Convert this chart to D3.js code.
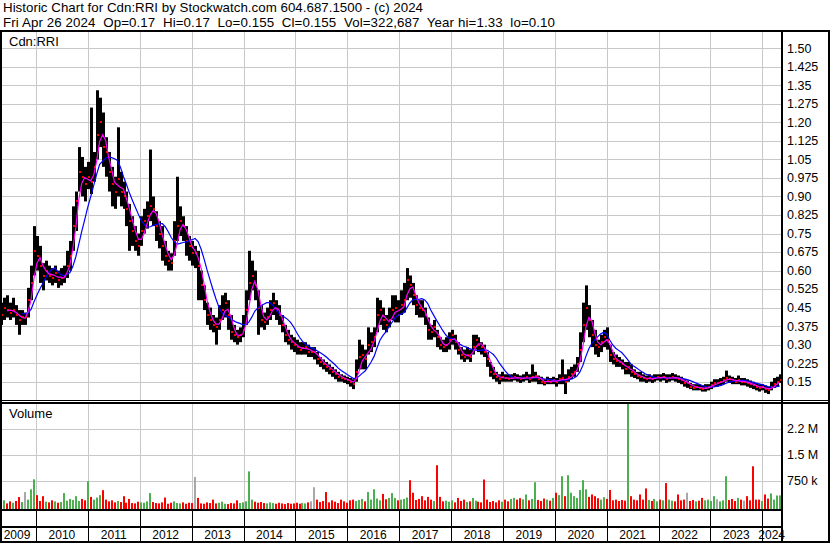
<!DOCTYPE html>
<html><head><meta charset="utf-8">
<script src="https://cdn.jsdelivr.net/npm/d3@7"></script>
<style>
html,body{margin:0;padding:0;background:#fff;overflow:hidden}
text{font-family:Arial,"Liberation Sans",sans-serif;fill:#000}
</style>
</head><body>
<svg id="chart" width="830" height="543"></svg>
<script>
// ---------------- DATA ----------------
const title1 = "Historic Chart for Cdn:RRI by Stockwatch.com 604.687.1500 - (c) 2024";
const title2 = "Fri Apr 26 2024  Op=0.17  Hi=0.17  Lo=0.155  Cl=0.155  Vol=322,687  Year hi=1.33  lo=0.10";
const symbolLabel = "Cdn:RRI";
const volumeLabel = "Volume";
const lastBarDate = "2024-04-26";
const barDays = 21; // each bar = 3 weeks

const closes = [
0.42,0.45,0.44,0.43,0.44,0.42,0.40,0.41,0.41,0.48,
0.55,0.68,0.66,0.62,0.58,0.60,0.58,0.57,0.59,0.56,
0.57,0.58,0.62,0.66,0.78,0.88,1.00,0.98,0.95,0.98,
0.96,1.02,1.15,1.20,1.10,1.08,1.00,0.95,0.92,0.97,
0.92,0.90,0.85,0.80,0.76,0.72,0.70,0.76,0.80,0.82,
0.86,0.85,0.78,0.75,0.70,0.66,0.64,0.63,0.72,0.78,
0.80,0.78,0.72,0.70,0.67,0.67,0.62,0.54,0.48,0.42,
0.40,0.38,0.37,0.40,0.44,0.47,0.42,0.35,0.34,0.33,
0.34,0.36,0.44,0.55,0.58,0.54,0.45,0.40,0.39,0.41,
0.44,0.47,0.44,0.42,0.38,0.34,0.32,0.31,0.30,0.29,
0.28,0.285,
0.29,0.27,0.27,0.27,0.24,0.23,0.22,0.21,0.20,0.19,
0.18,0.17,0.165,0.16,0.155,0.15,0.14,0.19,0.25,0.26,
0.24,0.30,0.31,0.33,0.42,0.44,0.40,0.38,0.40,0.44,
0.45,0.42,0.46,0.48,0.56,0.54,0.50,0.46,0.45,0.44,
0.42,0.36,0.35,0.37,0.33,0.30,0.29,0.30,0.32,0.34,
0.31,0.28,0.26,0.25,0.26,0.25,0.29,0.32,0.30,0.29,
0.27,0.24,0.19,0.18,0.17,0.16,0.17,0.165,0.16,0.165,
0.17,0.165,0.16,0.165,0.17,0.16,0.17,0.175,0.16,0.15,
0.145,0.155,0.15,0.155,0.15,0.16,0.165,0.15,0.17,0.18,
0.19,0.22,0.28,0.38,0.45,0.40,0.34,0.30,0.29,0.31,
0.33,0.32,0.26,0.24,0.235,0.23,0.22,0.20,0.21,0.19,
0.18,0.175,0.17,0.165,0.16,0.165,0.16,0.165,0.17,0.165,
0.17,0.16,0.165,0.17,0.165,0.16,0.155,0.145,0.145,0.13,
0.125,0.13,0.125,0.12,0.125,0.13,0.135,0.145,0.145,0.15,
0.155,0.165,0.16,0.155,0.15,0.155,0.15,0.15,0.145,0.14,
0.135,0.13,0.125,0.13,0.12,0.115,0.13,0.14,0.15,
0.155];

const highs = [
0.47,0.49,0.50,0.47,0.49,0.46,0.44,0.44,0.43,0.53,
0.62,0.78,0.74,0.70,0.63,0.64,0.62,0.61,0.62,0.60,
0.61,0.62,0.68,0.72,0.86,0.92,1.10,1.06,1.02,1.04,
1.26,1.08,1.33,1.30,1.24,1.14,1.08,1.02,0.98,1.18,
1.00,0.96,0.92,0.87,0.82,0.78,0.75,0.82,0.85,0.88,
1.09,0.90,0.84,0.80,0.78,0.72,0.68,0.67,0.80,0.98,
0.86,0.82,0.78,0.74,0.72,0.70,0.68,0.60,0.54,0.47,
0.45,0.42,0.41,0.46,0.50,0.51,0.48,0.42,0.38,0.36,
0.37,0.42,0.52,0.68,0.64,0.60,0.52,0.46,0.43,0.45,
0.48,0.51,0.48,0.46,0.42,0.38,0.36,0.34,0.33,0.32,
0.31,0.31,
0.31,0.30,0.29,0.29,0.27,0.25,0.24,0.23,0.22,0.21,
0.20,0.19,0.18,0.175,0.17,0.165,0.16,0.24,0.32,0.30,
0.28,0.37,0.35,0.37,0.49,0.48,0.45,0.42,0.45,0.50,
0.50,0.48,0.52,0.55,0.61,0.58,0.55,0.50,0.48,0.48,
0.45,0.41,0.38,0.40,0.36,0.33,0.32,0.33,0.35,0.36,
0.34,0.31,0.29,0.28,0.29,0.28,0.34,0.34,0.33,0.31,
0.30,0.27,0.23,0.21,0.19,0.18,0.19,0.18,0.18,0.18,
0.185,0.18,0.175,0.18,0.19,0.18,0.22,0.19,0.175,0.17,
0.16,0.17,0.165,0.17,0.165,0.18,0.24,0.18,0.20,0.21,
0.22,0.25,0.35,0.47,0.54,0.46,0.40,0.36,0.32,0.34,
0.36,0.37,0.30,0.27,0.26,0.25,0.24,0.23,0.23,0.22,
0.20,0.19,0.19,0.18,0.175,0.18,0.175,0.18,0.18,0.18,
0.185,0.18,0.18,0.185,0.18,0.175,0.17,0.16,0.155,0.145,
0.14,0.14,0.14,0.135,0.14,0.14,0.15,0.16,0.16,0.165,
0.17,0.195,0.175,0.17,0.165,0.175,0.165,0.165,0.16,0.155,
0.15,0.145,0.14,0.14,0.135,0.13,0.15,0.165,0.17,
0.18];

const lows = [
0.38,0.40,0.41,0.40,0.41,0.38,0.34,0.38,0.38,0.41,
0.48,0.58,0.60,0.55,0.52,0.56,0.55,0.54,0.55,0.53,
0.54,0.55,0.57,0.60,0.68,0.76,0.92,0.90,0.88,0.93,
0.91,0.96,1.05,1.10,1.02,0.98,0.92,0.86,0.85,0.90,
0.86,0.85,0.78,0.68,0.70,0.68,0.66,0.70,0.75,0.77,
0.80,0.78,0.72,0.69,0.64,0.62,0.60,0.60,0.66,0.72,
0.74,0.72,0.66,0.64,0.62,0.61,0.48,0.48,0.44,0.38,
0.36,0.35,0.30,0.36,0.40,0.41,0.36,0.32,0.31,0.30,
0.31,0.33,0.38,0.48,0.52,0.48,0.34,0.37,0.36,0.38,
0.40,0.42,0.40,0.38,0.35,0.31,0.30,0.28,0.27,0.26,
0.26,0.26,
0.26,0.25,0.25,0.24,0.22,0.21,0.20,0.19,0.18,0.17,
0.16,0.15,0.15,0.145,0.14,0.13,0.12,0.15,0.20,0.20,
0.20,0.26,0.27,0.29,0.35,0.38,0.36,0.35,0.37,0.40,
0.39,0.39,0.42,0.43,0.48,0.49,0.46,0.42,0.41,0.41,
0.38,0.32,0.32,0.33,0.29,0.28,0.27,0.27,0.28,0.30,
0.28,0.26,0.24,0.23,0.24,0.23,0.26,0.28,0.27,0.26,
0.25,0.21,0.17,0.16,0.15,0.14,0.15,0.15,0.15,0.15,
0.155,0.15,0.145,0.15,0.155,0.145,0.15,0.15,0.14,0.14,
0.135,0.14,0.14,0.14,0.13,0.14,0.14,0.10,0.15,0.16,
0.17,0.19,0.23,0.31,0.36,0.33,0.29,0.26,0.25,0.27,
0.29,0.28,0.23,0.22,0.21,0.21,0.20,0.18,0.18,0.17,
0.165,0.16,0.15,0.15,0.145,0.15,0.145,0.15,0.155,0.15,
0.155,0.145,0.15,0.155,0.15,0.145,0.14,0.13,0.125,0.12,
0.115,0.115,0.115,0.11,0.11,0.115,0.12,0.13,0.13,0.135,
0.14,0.15,0.145,0.14,0.14,0.14,0.135,0.135,0.13,0.125,
0.12,0.115,0.11,0.115,0.105,0.10,0.115,0.125,0.13,
0.145];

// volume in thousands of shares
const volumes = [
120,180,90,150,110,160,275,130,420,200,
500,790,330,160,300,140,120,180,150,110,
130,390,170,220,190,300,160,220,180,735,
280,200,260,330,475,200,150,180,120,160,
130,300,110,220,100,90,140,120,110,150,
390,130,100,90,120,260,80,110,150,100,
90,120,80,110,100,860,250,90,80,120,
100,200,90,110,140,80,70,100,90,180,
100,120,150,1020,200,140,110,130,100,90,
120,100,80,110,90,70,100,80,90,110,
80,100,90,120,150,560,200,130,160,420,
120,180,140,100,200,150,110,180,200,160,
190,220,150,420,200,500,230,180,365,210,
250,390,250,180,200,220,260,765,400,190,
220,300,180,280,200,160,1200,280,150,170,
140,180,120,250,160,200,130,150,250,170,
140,120,785,200,130,160,120,180,140,200,
150,220,250,200,240,210,350,180,220,705,
190,160,230,200,170,250,400,330,880,300,
910,400,300,250,480,765,500,280,350,300,
240,200,270,220,480,180,200,160,190,170,
3100,300,200,180,350,200,525,190,160,220,
150,200,180,680,200,170,150,350,180,200,
400,160,190,150,170,250,180,200,160,300,
210,150,180,880,190,220,160,250,200,170,
300,180,1170,200,200,160,350,230,380,200,
320,323];

const priceTickLabels = ["1.50","1.425","1.35","1.275","1.20","1.125","1.05","0.975","0.90","0.825","0.75","0.675","0.60","0.525","0.45","0.375","0.30","0.225","0.15"];
const volTickValues = [750000, 1500000, 2250000];
const volTickLabels = ["750 k", "1.5 M", "2.2 M"];
const yearLabels = [2009,2010,2011,2012,2013,2014,2015,2016,2017,2018,2019,2020,2021,2022,2023,2024];
const shortMAPeriod = 3;  // bars
const longMAPeriod = 8;   // bars

// ---------------- LAYOUT ----------------
const W = 830, H = 543;
const L = 2, R = 781;
const priceTop = 32, priceBottom = 400;
const volTop = 403, volBottom = 509;

const svg = d3.select("#chart");
svg.append("rect").attr("width", W).attr("height", H).attr("fill", "#fff");

const N = closes.length;
const endDate = d3.timeParse("%Y-%m-%d")(lastBarDate);
const dates = closes.map((_, i) => d3.timeDay.offset(endDate, -(N - 1 - i) * barDays));

const x = d3.scaleTime()
  .domain([new Date(2010, 0, 1), new Date(2024, 0, 1)])
  .range([36, 762.3]);
const yP = d3.scaleLinear().domain([0.15, 1.50]).range([381.7, 48.3]);
const yV = d3.scaleLinear().domain([0, 3000000]).range([506.5, 403.3]);

const gridColor = "#c8c8c8";
const yearBounds = yearLabels.slice(1).map(y => new Date(y, 0, 1));

const defs = svg.append("defs");
defs.append("clipPath").attr("id", "cp").append("rect")
  .attr("x", L).attr("y", priceTop).attr("width", R - L).attr("height", priceBottom - priceTop);
defs.append("clipPath").attr("id", "cv").append("rect")
  .attr("x", L).attr("y", volTop).attr("width", R - L).attr("height", volBottom - volTop);

// grid
const grid = svg.append("g").attr("stroke", gridColor).attr("stroke-width", 1);
priceTickLabels.forEach(t => {
  const yy = Math.round(yP(+t)) + 0.5;
  grid.append("line").attr("x1", L).attr("x2", R).attr("y1", yy).attr("y2", yy);
});
volTickValues.forEach(v => {
  const yy = Math.round(yV(v)) + 0.5;
  grid.append("line").attr("x1", L).attr("x2", R).attr("y1", yy).attr("y2", yy);
});
yearBounds.forEach(d => {
  const xx = Math.round(x(d)) + 0.5;
  grid.append("line").attr("x1", xx).attr("x2", xx).attr("y1", priceTop).attr("y2", priceBottom);
  grid.append("line").attr("x1", xx).attr("x2", xx).attr("y1", volTop).attr("y2", volBottom);
});

// price bars (high-low) with red close marks
const pg = svg.append("g").attr("clip-path", "url(#cp)");
pg.selectAll("rect.bar").data(closes).join("rect")
  .attr("class", "bar")
  .attr("x", (d, i) => Math.round(x(dates[i])))
  .attr("width", 3)
  .attr("y", (d, i) => yP(highs[i]))
  .attr("height", (d, i) => Math.max(1, yP(lows[i]) - yP(highs[i])))
  .attr("fill", "#000");
pg.selectAll("rect.cl").data(closes).join("rect")
  .attr("class", "cl")
  .attr("x", (d, i) => Math.round(x(dates[i])) + 1)
  .attr("width", 2)
  .attr("y", d => Math.round(yP(d)) - 1)
  .attr("height", 2)
  .attr("fill", "#ff0000");

// moving averages
function sma(period) {
  return closes.map((c, i) => i < period - 1 ? null : d3.mean(closes.slice(i - period + 1, i + 1)));
}
const line = d3.line()
  .defined(d => d.v !== null)
  .x(d => x(d.d) + 1)
  .y(d => yP(d.v));
const maShort = sma(shortMAPeriod).map((v, i) => ({d: dates[i], v}));
const maLong = sma(longMAPeriod).map((v, i) => ({d: dates[i], v}));
pg.append("path").attr("d", line(maLong)).attr("fill", "none").attr("stroke", "#0000ff").attr("stroke-width", 1.2);
pg.append("path").attr("d", line(maShort)).attr("fill", "none").attr("stroke", "#ff00ff").attr("stroke-width", 1.2);

// volume bars
const vg = svg.append("g").attr("clip-path", "url(#cv)");
vg.selectAll("rect").data(volumes).join("rect")
  .attr("x", (d, i) => Math.round(x(dates[i])))
  .attr("width", 2)
  .attr("y", d => yV(d * 1000))
  .attr("height", d => volBottom - yV(d * 1000))
  .attr("fill", (d, i) => {
    if (i === 0) return "#4caf50";
    if (closes[i] > closes[i - 1]) return "#4caf50";
    if (closes[i] < closes[i - 1]) return "#ff0000";
    return "#a8a8a8";
  });

// frame lines
const frame = svg.append("g").attr("fill", "#000");
frame.append("rect").attr("x", 0).attr("y", 30).attr("width", W).attr("height", 2);
frame.append("rect").attr("x", 0).attr("y", 30).attr("width", 2).attr("height", H - 30);
frame.append("rect").attr("x", R).attr("y", 30).attr("width", 2).attr("height", H - 30);
frame.append("rect").attr("x", W - 2).attr("y", 30).attr("width", 2).attr("height", H - 30);
frame.append("rect").attr("x", 0).attr("y", 400).attr("width", W).attr("height", 1);
frame.append("rect").attr("x", 0).attr("y", 402).attr("width", W).attr("height", 2);
frame.append("rect").attr("x", 0).attr("y", 509).attr("width", R + 2).attr("height", 2);
frame.append("rect").attr("x", 0).attr("y", 526).attr("width", R + 2).attr("height", 2);
frame.append("rect").attr("x", 0).attr("y", H - 2).attr("width", W).attr("height", 2);
yearBounds.forEach(d => {
  frame.append("rect").attr("x", Math.round(x(d))).attr("y", 511).attr("width", 1).attr("height", H - 2 - 511);
});

// texts
svg.append("text").attr("x", 3).attr("y", 12).attr("font-size", "13.3px")
  .attr("textLength", 420).attr("lengthAdjust", "spacing").text(title1);
svg.append("text").attr("x", 3).attr("y", 27).attr("font-size", "13.3px")
  .attr("xml:space", "preserve").style("white-space", "pre")
  .attr("textLength", 552).attr("lengthAdjust", "spacing").text(title2);
svg.append("text").attr("x", 9).attr("y", 46).attr("font-size", "13px").text(symbolLabel);
svg.append("text").attr("x", 9).attr("y", 418).attr("font-size", "13px").text(volumeLabel);

priceTickLabels.forEach(t => {
  svg.append("text").attr("x", 787).attr("y", yP(+t)).attr("dy", "0.35em")
    .attr("font-size", "12.5px").text(t);
});
volTickValues.forEach((v, i) => {
  svg.append("text").attr("x", 787).attr("y", yV(v)).attr("dy", "0.35em")
    .attr("font-size", "12.5px").text(volTickLabels[i]);
});
yearLabels.forEach(yr => {
  const a = Math.max(L, x(new Date(yr, 0, 1)));
  const b = Math.min(R, x(new Date(yr + 1, 0, 1)));
  svg.append("text").attr("x", (a + b) / 2 - (yr === yearLabels[0] ? 2 : 0)).attr("y", 539).attr("text-anchor", "middle")
    .attr("font-size", "12px").text(String(yr));
});
</script>
</body></html>
